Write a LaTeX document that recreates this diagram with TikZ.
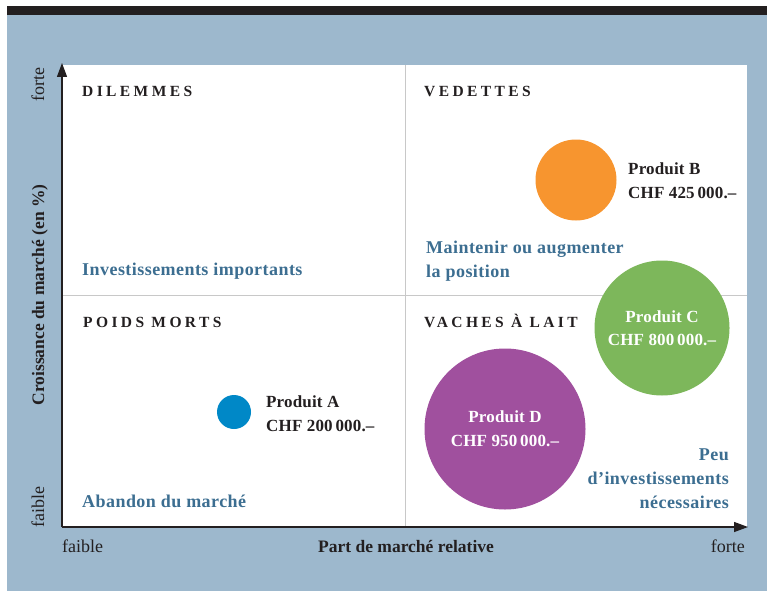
\documentclass[tikz,border=0pt]{standalone}
\usepackage{fontspec}
\setmainfont{Liberation Serif}
\usetikzlibrary{arrows.meta}
\definecolor{bgblue}{HTML}{9DB8CD}
\definecolor{txtblue}{HTML}{3C6E91}
\definecolor{inkdark}{HTML}{231F20}
\definecolor{corange}{HTML}{F7952F}
\definecolor{cgreen}{HTML}{7DB75B}
\definecolor{cpurple}{HTML}{A0509E}
\definecolor{cblue}{HTML}{0088C7}
\definecolor{divgray}{HTML}{C8C8C8}
\begin{document}
\begin{tikzpicture}[x=1pt,y=-1pt,
  quadtitle/.style={anchor=base west, inner sep=0, text=inkdark,
    font=\fontsize{15.5}{18}\selectfont\bfseries\addfontfeature{LetterSpace=22}},
  bluetext/.style={inner sep=0, text=txtblue, font=\fontsize{18}{22}\selectfont\bfseries\addfontfeature{LetterSpace=2.5}},
  prodtext/.style={inner sep=0, text=inkdark, font=\fontsize{17}{20}\selectfont\bfseries\addfontfeature{LetterSpace=1}},
  prodwhite/.style={inner sep=0, text=white, anchor=base, font=\fontsize{17}{20}\selectfont\bfseries\addfontfeature{LetterSpace=1}},
  bubble/.style={circle, inner sep=0, draw=none},
  axislabel/.style={inner sep=0, text=inkdark, font=\fontsize{18}{20}\selectfont},
  axistitle/.style={inner sep=0, text=inkdark, font=\fontsize{17.5}{20}\selectfont\bfseries},
  axis/.style={draw=inkdark, line width=1.3pt, -{Triangle[length=14pt,width=10pt]}},
  divider/.style={draw=divgray, line width=0.9pt}
]
\useasboundingbox (0,0) rectangle (767,591);
% background
\fill[bgblue] (7,15) rectangle (767,591);
\fill[inkdark] (7,6) rectangle (767,15);
\fill[white] (62,65) rectangle (747,527);

% coordinates
\coordinate (O) at (62,527);
\coordinate (ytop) at (62,63);
\coordinate (xend) at (748,527);
\coordinate (vtop) at (405,65);
\coordinate (vbot) at (405,527);
\coordinate (hleft) at (62,295);
\coordinate (hright) at (747,295);

% dividers
\draw[divider] (vtop) -- (vbot);
\draw[divider] (hleft) -- (hright);

% quadrant titles
\node[quadtitle] (tdil) at (82,97) {DILEMMES};
\node[quadtitle] (tved) at (424,97) {VEDETTES};
\node[quadtitle] (tpoi) at (83,327) {POIDS MORTS};
\node[quadtitle] (tvac) at (424,327) {VACHES À LAIT};

% blue texts
\node[bluetext, anchor=base west] (inv) at (82,275) {Investissements importants};
\node[bluetext, anchor=base west] (main1) at (426,253) {Maintenir ou augmenter};
\node[bluetext, anchor=base west] (main2) at (426,277) {la position};
\node[bluetext, anchor=base west] (aban) at (82,507) {Abandon du marché};
\node[bluetext, anchor=base east] (peu1) at (729,460) {Peu};
\node[bluetext, anchor=base east] (peu2) at (729,484) {d’investissements};
\node[bluetext, anchor=base east] (peu3) at (729,508) {nécessaires};

% bubbles
\node[bubble, fill=corange, minimum size=81pt] (B) at (576,180) {};
\node[bubble, fill=cgreen, minimum size=135pt] (C) at (662,328) {};
\node[bubble, fill=cpurple, minimum size=161pt] (D) at (505,429) {};
\node[bubble, fill=cblue, minimum size=34pt] (A) at (234,412) {};

% bubble labels
\node[prodtext, anchor=base west] (Bl1) at (628,174) {Produit B};
\node[prodtext, anchor=base west] (Bl2) at (628,198) {CHF 425\,000.–};
\node[prodwhite] (Cl1) at (662,322) {Produit C};
\node[prodwhite] (Cl2) at (662,345) {CHF 800\,000.–};
\node[prodwhite] (Dl1) at (505,422) {Produit D};
\node[prodwhite] (Dl2) at (505,446) {CHF 950\,000.–};
\node[prodtext, anchor=base west] (Al1) at (266,407) {Produit A};
\node[prodtext, anchor=base west] (Al2) at (266,431) {CHF 200\,000.–};

% axes
\draw[axis] (O) -- (ytop);
\draw[axis] (O) -- (xend);

% axis labels
\node[axislabel, anchor=base west] (xlo) at (62,552) {faible};
\node[axistitle, anchor=base] (xt) at (406,552) {Part de marché relative};
\node[axislabel, anchor=base east] (xhi) at (745,552) {forte};
\node[axislabel, rotate=90, anchor=base east] (yhi) at (44,67) {forte};
\node[axistitle, rotate=90, anchor=base] (yt) at (44,295) {Croissance du marché (en \%)};
\node[axislabel, rotate=90, anchor=base west] (ylo) at (44,528) {faible};
\end{tikzpicture}
\end{document}
